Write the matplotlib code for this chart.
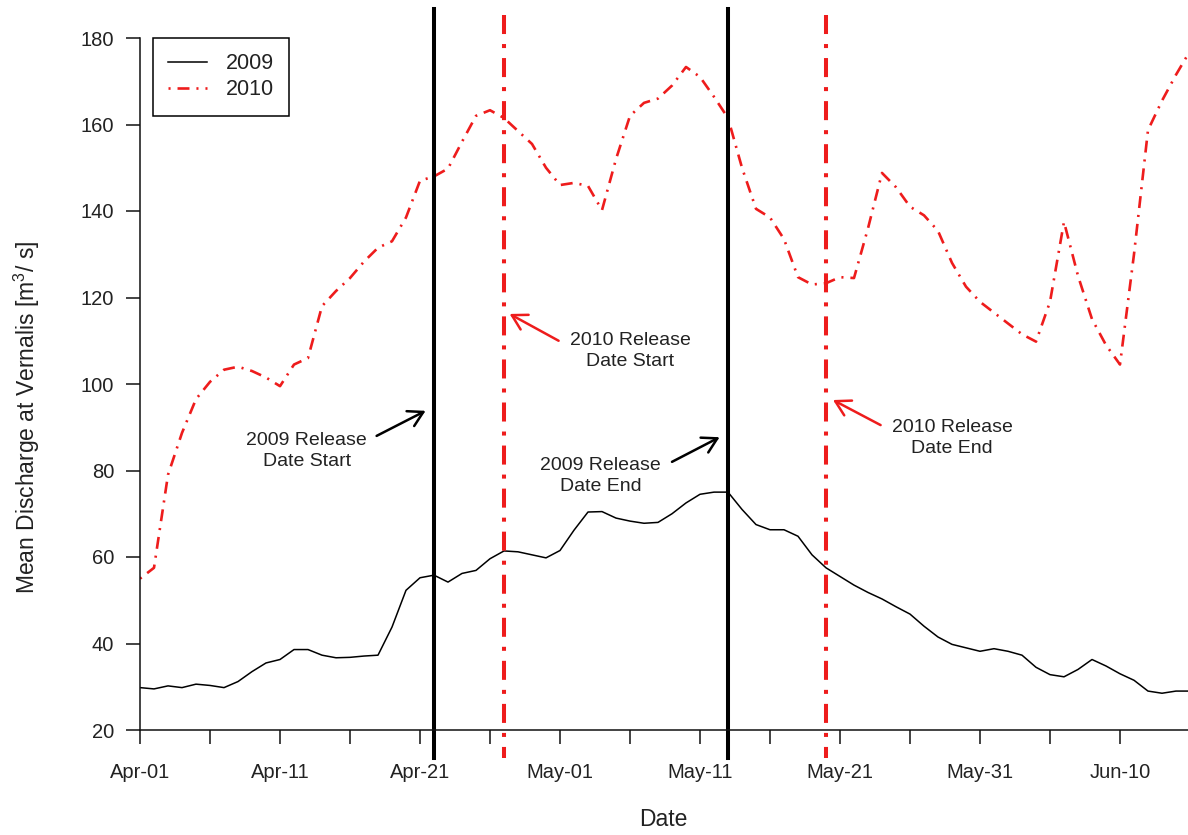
import numpy as np
import matplotlib
matplotlib.use('Agg')
import matplotlib.pyplot as plt

plt.rcParams['font.family'] = ['Liberation Sans', 'DejaVu Sans']
plt.rcParams['mathtext.fontset'] = 'custom'
plt.rcParams['mathtext.rm'] = 'Liberation Sans'
plt.rcParams['mathtext.it'] = 'Liberation Sans:italic'
plt.rcParams['lines.scale_dashes'] = False

##### DATA
# daily mean discharge, day 0 = Apr-01
days = np.arange(76)
q2009 = [29.8, 29.5, 30.2, 29.8, 30.6, 30.3, 29.8, 31.2, 33.5, 35.5,
         36.3, 38.6, 38.6, 37.3, 36.7, 36.8, 37.1, 37.3, 43.8, 52.3,
         55.2, 55.8, 54.2, 56.2, 56.9, 59.6, 61.4, 61.2, 60.5, 59.8,
         61.5, 66.2, 70.4, 70.5, 69.0, 68.3, 67.8, 68.0, 70.0, 72.5,
         74.5, 75.0, 75.0, 71.0, 67.5, 66.3, 66.3, 64.8, 60.5, 57.5,
         55.5, 53.5, 51.8, 50.3, 48.5, 46.8, 44.0, 41.5, 39.8, 39.0,
         38.2, 38.8, 38.2, 37.3, 34.5, 32.8, 32.3, 34.0, 36.3, 34.8,
         33.0, 31.5, 29.0, 28.5, 29.0, 29.0]
q2010 = [55.0, 57.5, 79.0, 88.7, 96.5, 100.5, 103.3, 104.0, 103.0, 101.5,
         99.5, 104.5, 106.0, 118.0, 121.5, 124.5, 128.3, 131.5, 133.0, 138.5,
         147.0, 148.0, 149.8, 156.0, 162.0, 163.3, 161.5, 158.5, 155.5, 150.0,
         146.0, 146.5, 145.8, 140.2, 152.0, 162.0, 165.0, 166.0, 169.0, 173.3,
         171.0, 166.4, 161.5, 150.0, 140.5, 138.5, 133.5, 124.7, 123.0, 123.3,
         124.7, 124.5, 136.0, 148.8, 145.5, 141.0, 139.0, 135.4, 128.0, 122.5,
         119.0, 116.5, 114.0, 111.5, 109.8, 119.0, 137.5, 125.0, 115.0, 109.0,
         104.5, 130.0, 158.7, 165.5, 171.5, 177.0]

release_2009 = [21, 42]   # Apr-22, May-13
release_2010 = [26, 49]   # Apr-27, May-20

tick_days = [0, 10, 20, 30, 40, 50, 60, 70]
tick_labels = ['Apr-01', 'Apr-11', 'Apr-21', 'May-01', 'May-11', 'May-21', 'May-31', 'Jun-10']
minor_days = [5, 15, 25, 35, 45, 55, 65, 75]
y_ticks = [20, 40, 60, 80, 100, 120, 140, 160, 180]

# (text, text pos, arrow head, arrow tail, colour)
notes = [
    ('2009 Release\nDate Start', (11.9, 84.5), (20.4, 93.8), (16.9, 88.0), 'black'),
    ('2010 Release\nDate Start', (35.0, 107.6), (26.4, 116.2), (29.9, 110.0), 'red'),
    ('2009 Release\nDate End', (32.9, 78.7), (41.4, 87.7), (38.0, 82.0), 'black'),
    ('2010 Release\nDate End', (58.0, 87.5), (49.5, 96.3), (52.9, 90.5), 'red'),
]

RED = '#ee1c1c'
TXT = '#222222'

fig = plt.figure(figsize=(11.88, 8.35), dpi=100)
ax = fig.add_axes([140/1188, 105/835, 1050/1188, 692/835])

ax.plot(days, q2009, color='black', lw=1.1, label='2009')
ax.plot(days, q2010, color=RED, lw=1.9, dashes=(1.5, 5, 8.6, 5), label='2010')

for d in release_2009:
    ax.axvline(d, ymin=1.042, ymax=-0.04, color='black', lw=2.9, clip_on=False)
for d in release_2010:
    ax.axvline(d, ymin=1.033, ymax=-0.04, color=RED, lw=2.9,
               dashes=(13.7, 7.2, 2.9, 7.2), clip_on=False)

for txt, tpos, head, tail, col in notes:
    c = RED if col == 'red' else 'black'
    ax.annotate('', xy=head, xytext=tail,
                arrowprops=dict(arrowstyle='->,head_length=1.05,head_width=0.6',
                                color=c, lw=1.8, shrinkA=0, shrinkB=0, mutation_scale=10))
    ax.text(tpos[0], tpos[1], txt, ha='center', va='center', fontsize=14,
            color=TXT, linespacing=1.35)

ax.set_xlim(0, 75)
ax.set_ylim(20, 180)
ax.spines['top'].set_visible(False)
ax.spines['right'].set_visible(False)
for s in ['left', 'bottom']:
    ax.spines[s].set_linewidth(1.1)
    ax.spines[s].set_color('#111111')

ax.set_xticks(tick_days)
ax.set_xticklabels(tick_labels)
ax.set_xticks(minor_days, minor=True)
ax.set_yticks(y_ticks)
ax.tick_params(axis='both', which='both', length=10, width=1.1, color='#111111',
               labelsize=14.5, labelcolor=TXT)
ax.tick_params(axis='x', which='both', pad=13.5)
ax.tick_params(axis='y', pad=8.5)

leg = ax.legend(loc='upper left', bbox_to_anchor=(0.0124, 1.0), fontsize=15.5,
                handlelength=1.8, handletextpad=0.9, borderpad=0.7, labelspacing=0.25,
                fancybox=False, edgecolor='black', framealpha=1, borderaxespad=0)
leg.get_frame().set_linewidth(1.1)
for t in leg.get_texts():
    t.set_color(TXT)

fig.text(27/1188, 1 - 417/835, 'Mean Discharge at Vernalis [m$^{3}$/ s]', rotation=90,
         ha='center', va='center', fontsize=16.5, color=TXT)
fig.text(663/1188, 1 - 820/835, 'Date', ha='center', va='center', fontsize=16.5, color=TXT)

fig.savefig('out.png', dpi=100)
